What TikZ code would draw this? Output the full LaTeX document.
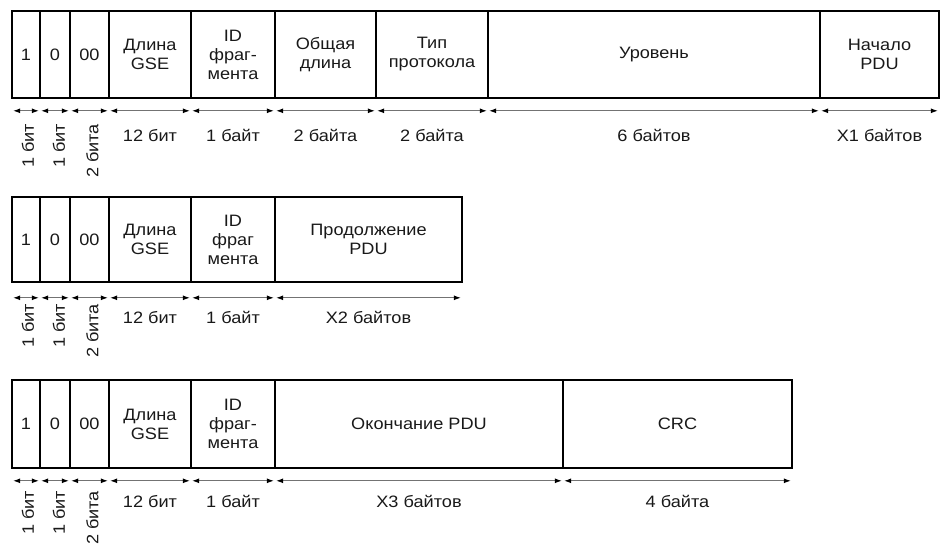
\documentclass[tikz,border=0pt]{standalone}
\usepackage{fontspec}
\setmainfont{Liberation Sans}[FakeStretch=1.1]
\usetikzlibrary{arrows.meta}
\tikzset{
  cell/.style={draw=black, line width=1.6pt, inner sep=1pt, align=center,
    font=\fontsize{16.5}{19}\selectfont, text=black!90},
  dim/.style={draw=black!55, line width=1pt,
    {Latex[length=7pt,width=5pt,black]}-{Latex[length=7pt,width=5pt,black]}},
  lbl/.style={inner sep=0pt, font=\fontsize{16.5}{19}\selectfont, text=black!90},
  rlbl/.style={lbl, rotate=90, anchor=east},
}
\newcommand\fcell[6]{%
  \node[cell, minimum width={#3pt-#2pt}, minimum height={#5pt-#4pt}]
    (#1) at ({(#2+#3)/2},{(#4+#5)/2}) {#6};}
\newcommand\fdim[2]{%
  \draw[dim] ([xshift=2pt,yshift=-#2pt]#1.south west) -- ([xshift=-2pt,yshift=-#2pt]#1.south east);}
\begin{document}
\begin{tikzpicture}[x=1pt,y=-1pt]
\useasboundingbox (0,0) rectangle (941,545);
\clip (0,0) rectangle (941,545);
% ---------- row 1 ----------
\fcell{a1}{12}{40}{11}{98}{1}
\fcell{b1}{40}{70}{11}{98}{0}
\fcell{c1}{70}{109}{11}{98}{00}
\fcell{d1}{109}{191}{11}{98}{Длина\\GSE}
\fcell{e1}{191}{275}{11}{98}{ID\\фраг-\\мента}
\fcell{f1}{275}{376}{11}{98}{Общая\\длина}
\fcell{g1}{376}{488}{11}{98}{Тип\\протокола}
\fcell{h1}{488}{820}{11}{98}{Уровень}
\fcell{i1}{820}{939}{11}{98}{Начало\\PDU}
\foreach \n in {a1,b1,c1,d1,e1,f1,g1,h1,i1}{\fdim{\n}{12}}
\node[rlbl] (la1) at ([xshift=2pt,yshift=-25pt]a1.south) {1 бит};
\node[rlbl] (lb1) at ([xshift=4pt,yshift=-25pt]b1.south) {1 бит};
\node[rlbl] (lc1) at ([xshift=3pt,yshift=-25pt]c1.south) {2 бита};
\node[lbl] (ld1) at ([yshift=-37pt]d1.south) {12 бит};
\node[lbl] (le1) at ([yshift=-37pt]e1.south) {1 байт};
\node[lbl] (lf1) at ([yshift=-37pt]f1.south) {2 байта};
\node[lbl] (lg1) at ([yshift=-37pt]g1.south) {2 байта};
\node[lbl] (lh1) at ([yshift=-37pt]h1.south) {6 байтов};
\node[lbl] (li1) at ([yshift=-37pt]i1.south) {X1 байтов};
% ---------- row 2 ----------
\fcell{a2}{12}{40}{197}{282}{1}
\fcell{b2}{40}{70}{197}{282}{0}
\fcell{c2}{70}{109}{197}{282}{00}
\fcell{d2}{109}{191}{197}{282}{Длина\\GSE}
\fcell{e2}{191}{275}{197}{282}{ID\\фраг\\мента}
\fcell{f2}{275}{462}{197}{282}{Продолжение\\PDU}
\foreach \n in {a2,b2,c2,d2,e2,f2}{\fdim{\n}{15}}
\node[rlbl] (la2) at ([xshift=2pt,yshift=-21pt]a2.south) {1 бит};
\node[rlbl] (lb2) at ([xshift=4pt,yshift=-21pt]b2.south) {1 бит};
\node[rlbl] (lc2) at ([xshift=3pt,yshift=-21pt]c2.south) {2 бита};
\node[lbl] (ld2) at ([yshift=-35pt]d2.south) {12 бит};
\node[lbl] (le2) at ([yshift=-35pt]e2.south) {1 байт};
\node[lbl] (lf2) at ([yshift=-35pt]f2.south) {X2 байтов};
% ---------- row 3 ----------
\fcell{a3}{12}{40}{380}{468}{1}
\fcell{b3}{40}{70}{380}{468}{0}
\fcell{c3}{70}{109}{380}{468}{00}
\fcell{d3}{109}{191}{380}{468}{Длина\\GSE}
\fcell{e3}{191}{275}{380}{468}{ID\\фраг-\\мента}
\fcell{f3}{275}{563}{380}{468}{Окончание PDU}
\fcell{g3}{563}{792}{380}{468}{CRC}
\foreach \n in {a3,b3,c3,d3,e3,f3,g3}{\fdim{\n}{12}}
\node[rlbl] (la3) at ([xshift=2pt,yshift=-22pt]a3.south) {1 бит};
\node[rlbl] (lb3) at ([xshift=4pt,yshift=-22pt]b3.south) {1 бит};
\node[rlbl] (lc3) at ([xshift=3pt,yshift=-22pt]c3.south) {2 бита};
\node[lbl] (ld3) at ([yshift=-33pt]d3.south) {12 бит};
\node[lbl] (le3) at ([yshift=-33pt]e3.south) {1 байт};
\node[lbl] (lf3) at ([yshift=-33pt]f3.south) {X3 байтов};
\node[lbl] (lg3) at ([yshift=-33pt]g3.south) {4 байта};
\end{tikzpicture}
\end{document}
